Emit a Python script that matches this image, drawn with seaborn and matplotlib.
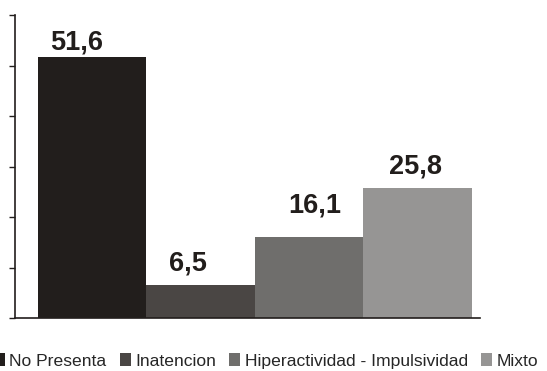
import matplotlib
matplotlib.use("Agg")
import matplotlib.pyplot as plt
import pandas as pd
import seaborn as sns

categories = ["No Presenta", "Inatencion", "Hiperactividad - Impulsividad", "Mixto"]
values = [51.6, 6.5, 16.1, 25.8]
value_labels = ["51,6", "6,5", "16,1", "25,8"]
colors = ["#221e1c", "#4a4644", "#6f6e6c", "#969594"]
y_ticks = [0, 10, 20, 30, 40, 50, 60]
# nudges (points) for the value labels as placed in the original
label_dx = [-11, -9, 4, -1.5]
label_dy = [5.8, 10.8, 17.3, 10.1]

sns.set_style("white")
plt.rcParams["font.family"] = ["Liberation Sans", "DejaVu Sans"]

df = pd.DataFrame({"tipo": categories, "pct": values})

fig = plt.figure(figsize=(5.47, 3.71), dpi=100)
ax = fig.add_axes([15 / 547, 53 / 371, 465 / 547, 303 / 371])
sns.barplot(data=df, x="tipo", y="pct", hue="tipo", palette=colors,
            width=1.0, dodge=False, saturation=1, legend=True, linewidth=0,
            edgecolor="none", ax=ax)

for i, (v, lab) in enumerate(zip(values, value_labels)):
    ax.annotate(lab, (i, v), xytext=(label_dx[i], label_dy[i]), textcoords="offset points",
                ha="center", va="baseline", fontsize=19.5, fontweight="bold",
                color="#221e1c")

ax.set_xlim(-0.712, 3.574)
ax.set_ylim(0, 60)
ax.set_yticks(y_ticks)
ax.set_yticklabels([])
ax.set_xticks([])
ax.set_xlabel("")
ax.set_ylabel("")
ax.tick_params(axis="y", which="both", left=True, direction="out", length=4,
               width=1, color="#221e1c")
sns.despine(ax=ax, top=True, right=True)
for side in ["left", "bottom"]:
    ax.spines[side].set_color("#221e1c")
    ax.spines[side].set_linewidth(1.2)

handles, labels = ax.get_legend_handles_labels()
ax.get_legend().remove()
fig.legend(handles, labels, loc="center", bbox_to_anchor=(266 / 547, 1 - 361 / 371),
           ncol=4, frameon=False, fontsize=12.6, handlelength=0.65, handleheight=0.75,
           handletextpad=0.25, columnspacing=0.74, borderpad=0, borderaxespad=0)

fig.savefig("out.png", dpi=100)
